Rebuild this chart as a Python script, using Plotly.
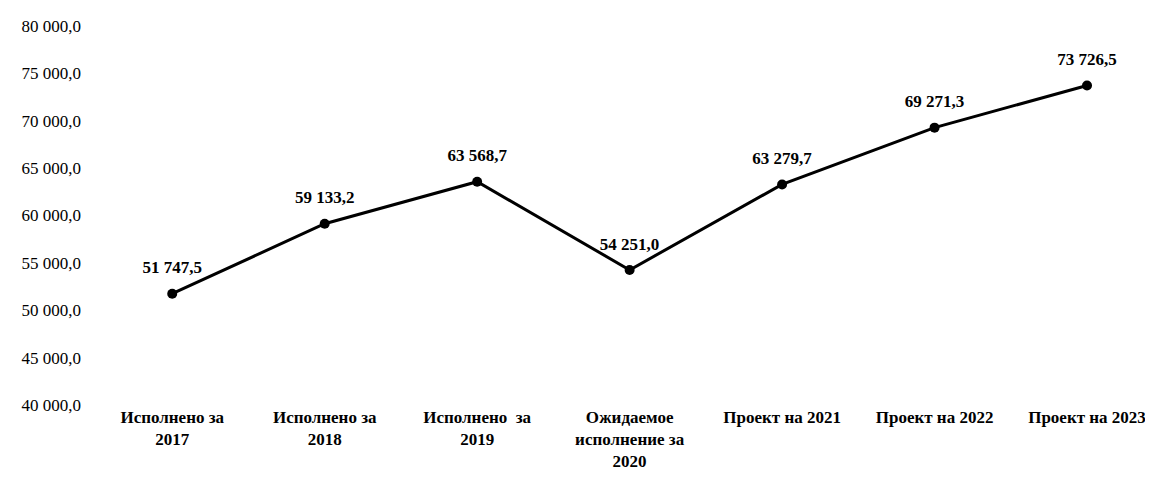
import plotly.graph_objects as go

categories = [
    "Исполнено за<br>2017",
    "Исполнено за<br>2018",
    "Исполнено  за<br>2019",
    "Ожидаемое<br>исполнение за<br>2020",
    "Проект на 2021",
    "Проект на 2022",
    "Проект на 2023",
]
values = [51747.5, 59133.2, 63568.7, 54251.0, 63279.7, 69271.3, 73726.5]
y_ticks = [40000, 45000, 50000, 55000, 60000, 65000, 70000, 75000, 80000]

x_idx = list(range(len(categories)))

fig = go.Figure()
fig.add_trace(go.Scatter(
    x=x_idx, y=values,
    mode="lines+markers",
    line=dict(color="black", width=3),
    marker=dict(color="black", size=10),
    hoverinfo="skip",
))
fig.add_trace(go.Scatter(
    x=x_idx, y=values,
    mode="markers+text",
    marker=dict(color="rgba(0,0,0,0)", size=24),
    texttemplate="<b>%{y:,.1f}</b>",
    textposition="top center",
    textfont=dict(family="Liberation Serif", size=17, color="black"),
    cliponaxis=False,
    hoverinfo="skip",
))

fig.update_layout(
    width=1145, height=469,
    margin=dict(l=88, r=5, t=18, b=72),
    paper_bgcolor="white", plot_bgcolor="white",
    separators=", ",
    showlegend=False,
    xaxis=dict(
        range=[-0.5, 6.4],
        tickmode="array", tickvals=x_idx,
        ticktext=["<b>" + c + "</b>" for c in categories],
        tickfont=dict(family="Liberation Serif", size=17, color="black"),
        showgrid=False, zeroline=False, showline=False, ticks="",
    ),
    yaxis=dict(
        range=[40000, 80000],
        tickmode="array", tickvals=y_ticks,
        tickformat=",.1f",
        tickfont=dict(family="Liberation Serif", size=17, color="black"),
        showgrid=False, zeroline=False, showline=False, ticks="",
        ticklabelstandoff=14,
    ),
)

fig.write_html("out.html")
